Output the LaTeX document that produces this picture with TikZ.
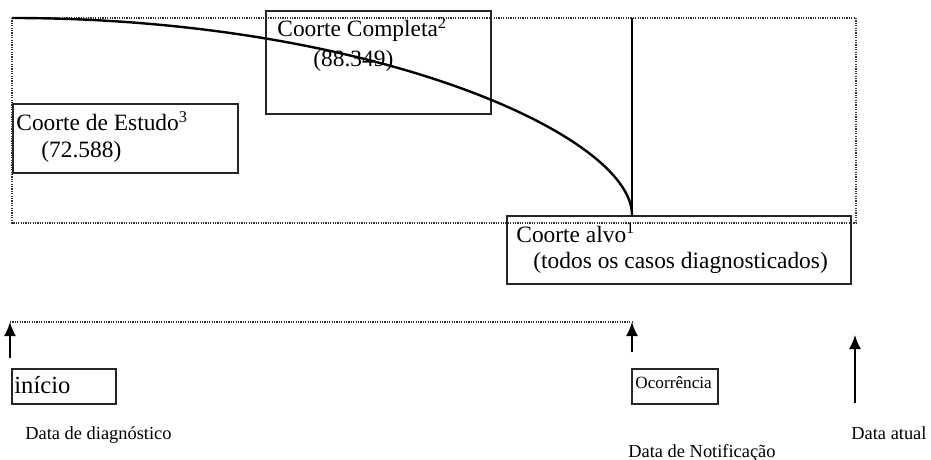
\documentclass[tikz,border=0pt]{standalone}
\usepackage{fontspec}
\setmainfont{Liberation Serif}
\usepackage{tikz}
\usetikzlibrary{arrows.meta,positioning,calc}

\tikzset{
  caixa/.style={draw=black!85,line width=1pt,anchor=north west,inner sep=0pt},
  txt/.style={anchor=base west,inner sep=0pt,font=\fontsize{11.7}{13}\selectfont},
  rotulo/.style={anchor=base west,inner sep=0pt,font=\fontsize{9.2}{11}\selectfont},
  pontilhado/.style={line width=0.75pt,dash pattern=on 0.6pt off 0.6pt,black!80},
  seta/.style={line width=0.9pt,-{Latex[length=7pt,width=6pt]}}
}

\begin{document}
\begin{tikzpicture}[x=0.5pt,y=-0.5pt]
\useasboundingbox (0,0) rectangle (931,460);

% Periodo do estudo (retangulo pontilhado)
\draw[pontilhado] (12,18) rectangle (856,223);

% Caixas das coortes
\node[caixa,minimum width=225*0.5pt,minimum height=69*0.5pt] (estudo) at (12,103) {};
\node[caixa,minimum width=225*0.5pt,minimum height=103*0.5pt] (completa) at (265,10) {};
\node[caixa,minimum width=344*0.5pt,minimum height=68*0.5pt] (alvo) at (506,215) {};

% Textos das coortes
\node[txt] (estudoA) at (16,131) {Coorte de Estudo\textsuperscript{3}};
\node[txt] (estudoB) at (41,157) {(72.588)};
\node[txt] (completaA) at (277,37) {Coorte Completa\textsuperscript{2}};
\node[txt] (completaB) at (313,67) {(88.349)};
\node[txt] (alvoA) at (516,242) {Coorte alvo\textsuperscript{1}};
\node[txt] (alvoB) at (533,268) {(todos os casos diagnosticados)};

% Curva e linha da notificacao
\coordinate (cini) at (12,18);
\coordinate (cfim) at (632,215);
\coordinate (ntopo) at (632,18);
\draw[line width=1.2pt] (cini) .. controls +(358,0) and +(0,-80) .. (cfim);
\draw[line width=1.1pt] (ntopo) -- (cfim);

% Linha do tempo
\coordinate (tdiag) at (10,322);
\coordinate (bdiag) at (10,358);
\coordinate (tnotif) at (632,322);
\coordinate (bnotif) at (632,352);
\coordinate (tatual) at (855,335);
\coordinate (batual) at (855,403);
\draw[pontilhado] (tdiag) -- (tnotif);
\draw[seta] (bdiag) -- (tdiag);
\draw[seta] (bnotif) -- (tnotif);
\draw[seta] (batual) -- (tatual);

% Marcos
\node[caixa,minimum width=104*0.5pt,minimum height=35*0.5pt] (inicio) at (11,368) {};
\node[anchor=base west,inner sep=0pt,font=\fontsize{12.3}{14}\selectfont] (inicioT) at (14,393) {início};
\node[caixa,minimum width=86*0.5pt,minimum height=35*0.5pt] (ocorr) at (631,368) {};
\node[anchor=base west,inner sep=0pt,font=\fontsize{8.6}{10}\selectfont] (ocorrT) at (635,388) {Ocorrência};

% Datas
\node[rotulo] (dataDiag) at (25,439) {Data de diagnóstico};
\node[rotulo] (dataAtual) at (851,439) {Data atual};
\node[rotulo] (dataNotif) at (628,457) {Data de Notificação};

\end{tikzpicture}
\end{document}
